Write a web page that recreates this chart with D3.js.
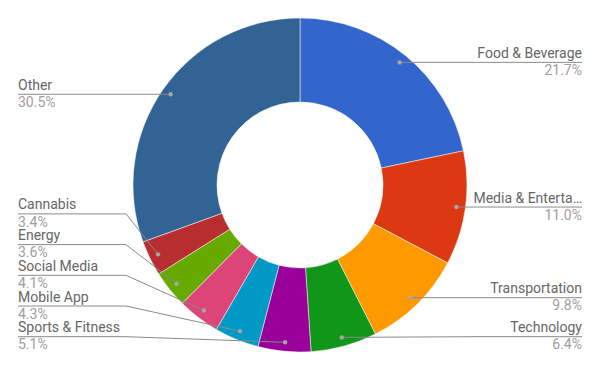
<!DOCTYPE html>
<html>
<head>
<meta charset="utf-8">
<script src="https://cdn.jsdelivr.net/npm/d3@7"></script>
<style>
  html, body { margin: 0; padding: 0; background: #fff; }
  svg { display: block; font-family: Roboto, Arial, sans-serif; }
</style>
</head>
<body>
<svg id="chart" width="600" height="371"></svg>
<script>
const categories = ["Food & Beverage", "Media & Entertainment", "Transportation", "Technology",
  "Sports & Fitness", "Mobile App", "Social Media", "Energy", "Cannabis", "Other"];
const values = [21.7, 11.0, 9.8, 6.4, 5.1, 4.3, 4.1, 3.6, 3.4, 30.5];
const colors = ["#3366cc", "#dc3912", "#ff9900", "#109618", "#990099",
  "#0099c6", "#dd4477", "#66aa00", "#b82e2e", "#316395"];

const W = 600, H = 371;
const cx = 300, cy = 185, rOuter = 167, rInner = 83, rDot = 158;
const svg = d3.select("#chart");
const g = svg.append("g").attr("transform", `translate(${cx},${cy})`);

const data = categories.map((c, i) => ({ name: c, value: values[i], color: colors[i] }));
const pie = d3.pie().value(d => d.value).sort(null);
const arcs = pie(data);
const arc = d3.arc().innerRadius(rInner).outerRadius(rOuter);

g.selectAll("path.slice").data(arcs).enter().append("path")
  .attr("class", "slice")
  .attr("d", arc)
  .attr("fill", d => d.data.color)
  .attr("stroke", "#fff")
  .attr("stroke-width", 0.5);

// label layout
const spacing = 30.7, maxY = 336.7 - cy, minY = 20 - cy;
const items = arcs.map(a => {
  const mid = (a.startAngle + a.endAngle) / 2;
  return { a, mid, x: Math.sin(mid) * rDot, y: -Math.cos(mid) * rDot, right: mid < Math.PI };
});
["right", "left"].forEach(side => {
  const list = items.filter(it => (side === "right") === it.right).sort((p, q) => p.y - q.y);
  for (let i = list.length - 1; i >= 0; i--) {
    const lim = i === list.length - 1 ? maxY : list[i + 1].ly - spacing;
    list[i].ly = Math.min(list[i].y, lim);
  }
  for (let i = 0; i < list.length; i++) {
    const lim = i === 0 ? minY : list[i - 1].ly + spacing;
    list[i].ly = Math.max(list[i].ly, lim);
  }
});

const textR = 582 - cx, textL = 18 - cx, bendR = 474 - cx, bendL = 126 - cx;
const lab = g.append("g");
items.forEach(it => {
  const pts = it.right
    ? [[it.x, it.y], [Math.max(bendR, it.x), it.ly], [textR, it.ly]]
    : [[it.x, it.y], [Math.min(bendL, it.x), it.ly], [textL, it.ly]];
  lab.append("path")
    .attr("d", d3.line()(pts))
    .attr("fill", "none")
    .attr("stroke", "#8a8a8a")
    .attr("stroke-width", 1);
  lab.append("circle")
    .attr("cx", it.x).attr("cy", it.y).attr("r", 2.2)
    .attr("fill", "#a6a6a6");
  const anchor = it.right ? "end" : "start";
  const tx = it.right ? textR : textL;
  const t = lab.append("text")
    .attr("x", tx).attr("y", it.ly - 4.5)
    .attr("text-anchor", anchor)
    .attr("font-size", 14)
    .attr("fill", "#666666")
    .text(it.a.data.name);
  const maxW = 110;
  let s = it.a.data.name;
  while (t.node().getComputedTextLength() > maxW && s.length > 1) {
    s = s.slice(0, -1);
    t.text(s.trimEnd() + "…");
  }
  lab.append("text")
    .attr("x", tx).attr("y", it.ly + 12.7)
    .attr("text-anchor", anchor)
    .attr("font-size", 14)
    .attr("fill", "#9e9e9e")
    .text(d3.format(".1f")(it.a.data.value) + "%");
});
</script>
</body>
</html>
